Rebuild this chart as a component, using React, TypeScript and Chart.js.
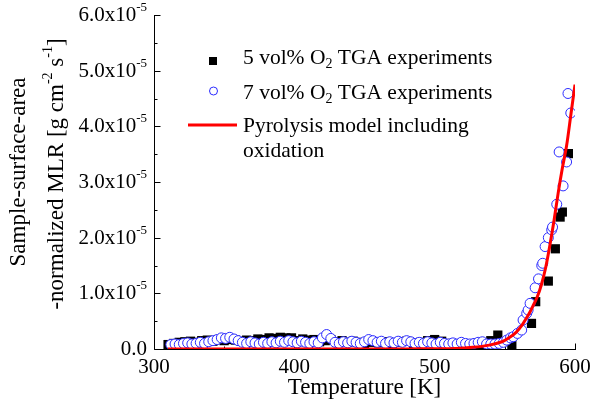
import React, { useEffect, useRef } from 'react';
import { Chart, registerables } from 'chart.js';

Chart.register(...registerables);

// Tick values
const xTickValues = [300, 400, 500, 600];
const yTickValues = [0, 1, 2, 3, 4, 5, 6]; // in units of 1e-5 g cm^-2 s^-1

// Pyrolysis model including oxidation (T in K, MLR in 1e-5 g cm^-2 s^-1)
const modelT = [310, 350, 400, 450, 480, 500, 515, 527, 539, 548, 553, 558, 562, 566, 568, 570, 573, 576, 579, 582, 585, 588, 591, 594, 597, 600];
const modelMLR = [0, 0, 0, 0, 0.002, 0.005, 0.01, 0.03, 0.07, 0.13, 0.2, 0.3, 0.42, 0.58, 0.67, 0.77, 0.93, 1.15, 1.45, 1.85, 2.3, 2.8, 3.25, 3.65, 4.2, 4.75];

// 5 vol% O2 TGA experiments
const o2v5T = [310, 314, 318, 322, 326, 330, 334, 338, 342, 346, 350, 354, 358, 362, 366, 370, 374, 378, 382, 386, 390, 394, 398, 402, 406, 410, 414, 418, 422, 426, 430, 434, 438, 442, 446, 450, 455, 460, 465, 470, 475, 480, 485, 490, 495, 500, 505, 510, 515, 520, 525, 530, 535, 540, 545, 555, 569, 572, 581, 586, 589.4, 591, 595.3];
const o2v5MLR = [0.08, 0.1, 0.12, 0.13, 0.14, 0.12, 0.15, 0.16, 0.14, 0.17, 0.15, 0.17, 0.16, 0.14, 0.16, 0.15, 0.18, 0.17, 0.2, 0.19, 0.21, 0.2, 0.2, 0.15, 0.18, 0.16, 0.17, 0.13, 0.15, 0.17, 0.13, 0.15, 0.12, 0.14, 0.12, 0.1, 0.12, 0.11, 0.13, 0.1, 0.12, 0.14, 0.1, 0.12, 0.15, 0.17, 0.14, 0.1, 0.08, 0.08, 0.08, 0.08, 0.08, 0.15, 0.25, 0.08, 0.46, 0.85, 1.22, 1.8, 2.37, 2.46, 3.51];

// 7 vol% O2 TGA experiments
const o2v7T = [312, 315, 318, 321, 324, 327, 330, 333, 336, 339, 342, 345, 348, 351, 354, 357, 360, 363, 366, 369, 372, 375, 378, 381, 384, 387, 390, 393, 396, 399, 402, 405, 408, 411, 414, 417, 420, 423, 426, 429, 432, 435, 438, 441, 444, 447, 450, 453, 456, 459, 462, 465, 468, 471, 474, 477, 480, 483, 486, 489, 492, 495, 498, 501, 504, 507, 510, 513, 516, 519, 522, 525, 528, 531, 534, 537, 540, 543, 546, 549, 551.4, 554, 556, 559, 562, 563, 565.6, 566.6, 568, 571.6, 574, 576.3, 577, 578.7, 581, 583.4, 584, 587, 588.7, 591.5, 594, 595, 597];
const o2v7MLR = [0.08, 0.09, 0.08, 0.1, 0.11, 0.09, 0.1, 0.12, 0.1, 0.13, 0.15, 0.17, 0.2, 0.19, 0.21, 0.18, 0.15, 0.12, 0.1, 0.13, 0.11, 0.09, 0.12, 0.1, 0.13, 0.11, 0.14, 0.12, 0.15, 0.13, 0.11, 0.14, 0.12, 0.1, 0.13, 0.11, 0.2, 0.26, 0.19, 0.12, 0.1, 0.13, 0.11, 0.14, 0.12, 0.1, 0.13, 0.17, 0.15, 0.12, 0.14, 0.1, 0.13, 0.11, 0.14, 0.12, 0.15, 0.13, 0.1, 0.12, 0.1, 0.13, 0.11, 0.09, 0.12, 0.1, 0.09, 0.11, 0.09, 0.12, 0.1, 0.09, 0.1, 0.12, 0.13, 0.09, 0.09, 0.09, 0.1, 0.12, 0.16, 0.2, 0.22, 0.28, 0.34, 0.52, 0.64, 0.7, 0.82, 1.1, 1.26, 1.5, 1.54, 1.84, 2.0, 2.14, 2.19, 2.6, 3.54, 2.93, 3.36, 4.59, 4.24];

const FONT = '"Liberation Serif", "Times New Roman", serif';
const BLUE = '#2b2bff';

const toPts = (xs: number[], ys: number[]) => xs.map((x, i) => ({ x, y: ys[i] }));

const axesPlugin = {
  id: 'customAxes',
  beforeDatasetsDraw(chart: any) {
    const ctx = chart.ctx;
    const ca = chart.chartArea;
    const xs = chart.scales.x;
    const ys = chart.scales.y;
    const L = Math.round(ca.left) + 0.5;
    const B = Math.round(ca.bottom) + 0.5;
    ctx.save();
    ctx.strokeStyle = '#000';
    ctx.lineWidth = 1;
    ctx.beginPath();
    ctx.moveTo(L, Math.round(ca.top));
    ctx.lineTo(L, B);
    ctx.lineTo(Math.round(ca.right) + 1, B);
    // y ticks (inward)
    for (let v = 0; v <= 6.001; v += 0.5) {
      const y = Math.round(ys.getPixelForValue(v)) + 0.5;
      const len = Math.abs(v - Math.round(v)) < 1e-6 ? 6 : 3;
      ctx.moveTo(L, y);
      ctx.lineTo(L + len, y);
    }
    // x ticks (inward)
    for (let t = 300; t <= 600; t += 50) {
      const x = Math.round(xs.getPixelForValue(t)) + 0.5;
      const len = t % 100 === 0 ? 6 : 3;
      ctx.moveTo(x, B);
      ctx.lineTo(x, B - len);
    }
    ctx.stroke();
    ctx.restore();
  },
  afterDraw(chart: any) {
    const ctx = chart.ctx;
    const ca = chart.chartArea;
    const xs = chart.scales.x;
    const ys = chart.scales.y;
    ctx.save();
    ctx.fillStyle = '#000';

    // Y tick labels
    const mainF = `21px ${FONT}`;
    const supF = `13px ${FONT}`;
    ctx.textBaseline = 'alphabetic';
    for (const v of yTickValues) {
      const y = ys.getPixelForValue(v);
      const base = y + 6;
      const right = 147;
      if (v === 0) {
        ctx.font = mainF;
        ctx.textAlign = 'right';
        ctx.fillText('0.0', right, base);
      } else {
        ctx.font = supF;
        const sup = '-5';
        const sw = ctx.measureText(sup).width;
        ctx.textAlign = 'left';
        ctx.fillText(sup, right - sw, base - 10);
        ctx.font = mainF;
        ctx.textAlign = 'right';
        ctx.fillText(`${v}.0x10`, right - sw, base);
      }
    }

    // X tick labels
    ctx.font = mainF;
    ctx.textAlign = 'center';
    ctx.textBaseline = 'middle';
    for (const t of xTickValues) {
      ctx.fillText(String(t), xs.getPixelForValue(t), 367);
    }

    // X title
    ctx.font = `23px ${FONT}`;
    ctx.fillText('Temperature [K]', (ca.left + ca.right) / 2, 388);

    // Y title (rotated, two lines)
    const drawRuns = (runs: { t: string; sup?: boolean }[], cx: number, cy: number) => {
      ctx.save();
      ctx.translate(cx, cy);
      ctx.rotate(-Math.PI / 2);
      ctx.textAlign = 'left';
      ctx.textBaseline = 'middle';
      let total = 0;
      for (const r of runs) {
        ctx.font = r.sup ? `14px ${FONT}` : `23px ${FONT}`;
        total += ctx.measureText(r.t).width;
      }
      let x = -total / 2;
      for (const r of runs) {
        ctx.font = r.sup ? `14px ${FONT}` : `23px ${FONT}`;
        ctx.fillText(r.t, x, r.sup ? -9 : 0);
        x += ctx.measureText(r.t).width;
      }
      ctx.restore();
    };
    drawRuns([{ t: 'Sample-surface-area' }], 19, 172);
    drawRuns([
      { t: '-normalized MLR [g cm' },
      { t: '-2', sup: true },
      { t: ' s' },
      { t: '-1', sup: true },
      { t: ']' },
    ], 57, 174);

    // Legend
    const lf = `21.5px ${FONT}`;
    const sf = `14px ${FONT}`;
    const tx = 243;
    const drawO2Line = (prefix: string, suffix: string, base: number) => {
      ctx.textAlign = 'left';
      ctx.textBaseline = 'alphabetic';
      ctx.font = lf;
      ctx.fillText(prefix, tx, base);
      let x = tx + ctx.measureText(prefix).width;
      ctx.font = sf;
      ctx.fillText('2', x, base + 4);
      x += ctx.measureText('2').width;
      ctx.font = lf;
      ctx.fillText(suffix, x, base);
    };
    // square marker
    ctx.fillStyle = '#000';
    ctx.fillRect(209, 57, 8, 8);
    drawO2Line('5 vol% O', ' TGA experiments', 64);
    // circle marker
    ctx.beginPath();
    ctx.arc(213.5, 91, 4, 0, Math.PI * 2);
    ctx.fillStyle = '#fff';
    ctx.fill();
    ctx.strokeStyle = BLUE;
    ctx.lineWidth = 1;
    ctx.stroke();
    ctx.fillStyle = '#000';
    drawO2Line('7 vol% O', ' TGA experiments', 98.5);
    // line marker
    ctx.beginPath();
    ctx.moveTo(188, 125);
    ctx.lineTo(237, 125);
    ctx.strokeStyle = '#ff0000';
    ctx.lineWidth = 3;
    ctx.stroke();
    ctx.font = lf;
    ctx.textAlign = 'left';
    ctx.textBaseline = 'alphabetic';
    ctx.fillText('Pyrolysis model including', tx, 131.5);
    ctx.fillText('oxidation', tx, 157);

    ctx.restore();
  },
};

export default function App() {
  const ref = useRef<HTMLCanvasElement | null>(null);
  useEffect(() => {
    if (!ref.current) return;
    const chart = new Chart(ref.current, {
      type: 'scatter',
      data: {
        datasets: [
          {
            label: 'Pyrolysis model including oxidation',
            data: toPts(modelT, modelMLR),
            showLine: true,
            borderColor: '#ff0000',
            borderWidth: 3,
            pointRadius: 0,
            tension: 0.3,
          },
          {
            label: '7 vol% O2 TGA experiments',
            data: toPts(o2v7T, o2v7MLR),
            pointStyle: 'circle',
            pointRadius: 5,
            borderColor: BLUE,
            borderWidth: 1,
            backgroundColor: '#ffffff',
          },
          {
            label: '5 vol% O2 TGA experiments',
            data: toPts(o2v5T, o2v5MLR),
            pointStyle: 'rect',
            pointRadius: 6.5,
            borderColor: '#000',
            borderWidth: 0,
            backgroundColor: '#000',
          },
        ],
      },
      options: {
        animation: false,
        responsive: false,
        maintainAspectRatio: false,
        layout: { padding: { left: 154, right: 19, top: 15, bottom: 58 } },
        plugins: { legend: { display: false }, tooltip: { enabled: false } },
        scales: {
          x: { type: 'linear', min: 300, max: 600, display: false },
          y: { type: 'linear', min: 0, max: 6, display: false },
        },
      },
      plugins: [axesPlugin],
    });
    return () => chart.destroy();
  }, []);
  return (
    <div style={{ position: 'fixed', left: 0, top: 0, width: 594, height: 407, background: '#fff' }}>
      <canvas ref={ref} width={594} height={407} style={{ width: 594, height: 407 }} />
    </div>
  );
}
